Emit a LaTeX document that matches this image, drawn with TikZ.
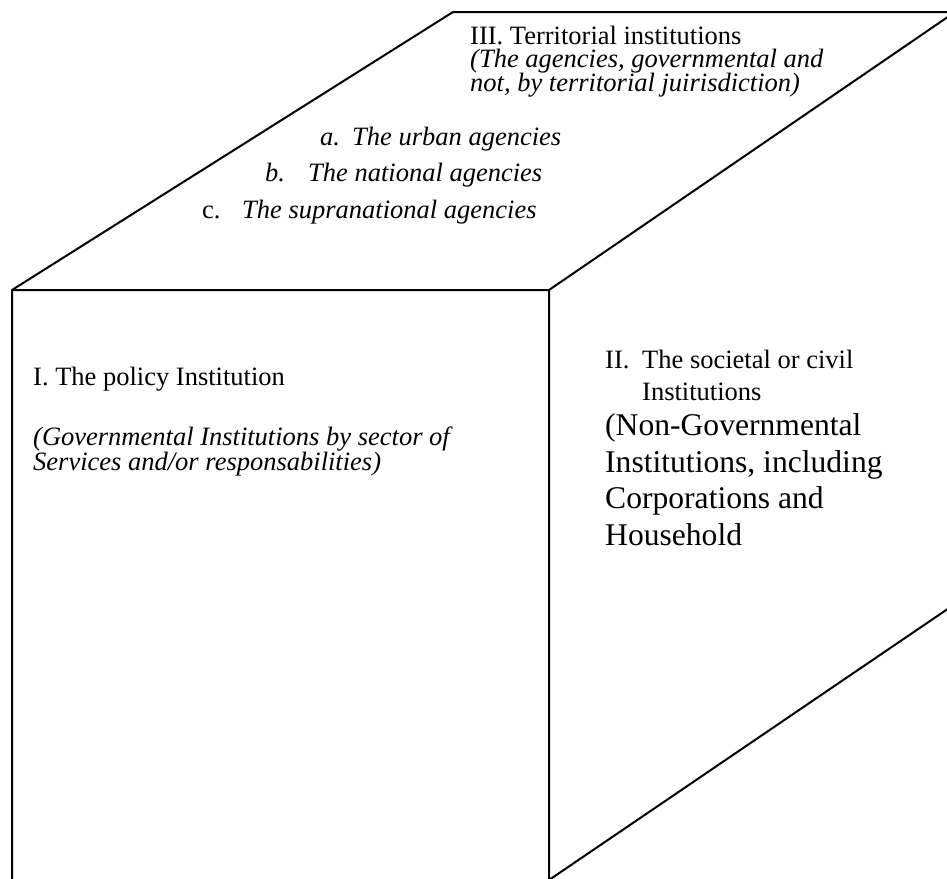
\documentclass[tikz,border=0pt]{standalone}
\usepackage{fontspec}
\setmainfont{Liberation Serif}
\begin{document}
\begin{tikzpicture}[x=1pt,y=-1pt,
  edge/.style={line width=2pt,line join=miter},
  sm/.style={anchor=base west,inner sep=0pt,font=\fontsize{26.5}{22}\selectfont},
  tight/.style={text height=17pt,text depth=4pt},
  bg/.style={anchor=base west,inner sep=0pt,font=\fontsize{31.6}{36}\selectfont}]
\useasboundingbox (0,0) rectangle (947,878);
\begin{scope}
\clip (0,0) rectangle (947,878);
\coordinate (ftl) at (12,290);
\coordinate (ftr) at (549,290);
\coordinate (fbl) at (12,900);
\coordinate (fbr) at (549,880);
\coordinate (btl) at (453,12);
\coordinate (btr) at (955,12);
\coordinate (bbr) at (955,604);
\draw[edge] (fbl) -- (ftl) -- (btl) -- (btr) -- (ftr) -- (ftl);
\draw[edge] (ftr) -- (fbr) -- (bbr);
\end{scope}
% top face
\node[sm,tight] (t1) at (470,44) {III. Territorial institutions};
\node[sm,tight] (t2) at (470,67.5) {\itshape (The agencies, governmental and};
\node[sm,tight] (t3) at (470,91) {\itshape not, by territorial juirisdiction)};
\node[sm] (ta1) at (320,145) {\itshape a.};
\node[sm] (ta2) at (352,145) {\itshape The urban agencies};
\node[sm] (tb1) at (265,181) {\itshape b.};
\node[sm] (tb2) at (308,181) {\itshape The national agencies};
\node[sm] (tc1) at (202,218) {c.};
\node[sm] (tc2) at (242,218) {\itshape The supranational agencies};
% front face
\node[sm] (f1) at (33,385) {I. The policy Institution};
\node[sm,tight] (f2) at (33,445) {\itshape (Governmental Institutions by sector of};
\node[sm,tight] (f3) at (33,470) {\itshape Services and/or responsabilities)};
% right face
\node[sm] (r1) at (605,368) {II.};
\node[sm] (r1b) at (642,368) {The societal or civil};
\node[sm] (r2) at (642,400) {Institutions};
\node[bg] (r3) at (605,435) {(Non-Governmental};
\node[bg] (r4) at (605,472) {Institutions, including};
\node[bg] (r5) at (605,508) {Corporations and};
\node[bg] (r6) at (605,545) {Household};
\end{tikzpicture}
\end{document}
